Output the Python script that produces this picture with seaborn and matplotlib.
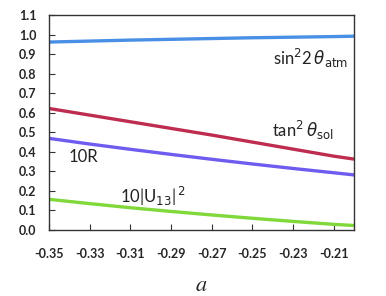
import pandas as pd
import numpy as np
import matplotlib
matplotlib.use("Agg")
import matplotlib.pyplot as plt
import seaborn as sns

# values
a_vals = [-0.35, -0.33, -0.31, -0.29, -0.27, -0.25, -0.23, -0.21, -0.20]
sin2_atm = [0.962, 0.967, 0.972, 0.976, 0.980, 0.984, 0.987, 0.990, 0.992]
tan2_sol = [0.622, 0.588, 0.554, 0.520, 0.486, 0.450, 0.414, 0.378, 0.363]
ten_R = [0.469, 0.440, 0.413, 0.387, 0.362, 0.338, 0.315, 0.293, 0.282]
ten_U13 = [0.157, 0.135, 0.114, 0.095, 0.077, 0.060, 0.044, 0.029, 0.023]

series_names = ["sin2_atm", "tan2_sol", "10R", "10U13"]
series_vals = [sin2_atm, tan2_sol, ten_R, ten_U13]
colors = ["#4a8fe6", "#be2d50", "#6e5cee", "#80d83a"]

x_ticks = [-0.35, -0.33, -0.31, -0.29, -0.27, -0.25, -0.23, -0.21]
y_ticks = [0.0, 0.1, 0.2, 0.3, 0.4, 0.5, 0.6, 0.7, 0.8, 0.9, 1.0, 1.1]

df = pd.concat([pd.DataFrame({"a": a_vals, "value": v, "series": n})
                for n, v in zip(series_names, series_vals)])

sns.set_style("ticks")
plt.rcParams["font.family"] = ["Lato", "DejaVu Sans"]
plt.rcParams["mathtext.fontset"] = "dejavusans"

fig, ax = plt.subplots(figsize=(3.86, 2.96), dpi=100)
fig.subplots_adjust(left=0.127, right=0.917, top=0.949, bottom=0.223)

sns.lineplot(data=df, x="a", y="value", hue="series", palette=colors,
             linewidth=2.4, legend=False, ax=ax)

ax.set_xlim(-0.35, -0.20)
ax.set_ylim(0.0, 1.1)
ax.set_xticks(x_ticks)
ax.set_xticklabels([f"{t:.2f}" for t in x_ticks], fontweight="bold", fontsize=9)
ax.set_yticks(y_ticks)
ax.set_yticklabels([f"{t:.1f}" for t in y_ticks], fontweight="bold", fontsize=9)
ax.tick_params(axis="x", direction="in", length=4, pad=13, color="#333333")
ax.tick_params(axis="y", direction="in", length=4, pad=9, color="#333333")
for s in ax.spines.values():
    s.set_visible(True)
    s.set_color("#333333")
    s.set_linewidth(1.0)

ax.set_xlabel("$a$", fontsize=16, labelpad=11)
ax.xaxis.label.set_math_fontfamily("stix")
ax.set_ylabel("")

txt = dict(fontsize=12, color="#222222", va="center")
ax.text(-0.2398, 0.88, r"sin$^2$2$\,\theta_{\mathrm{atm}}$", **txt)
ax.text(-0.2405, 0.51, r"tan$^2\,\theta_{\mathrm{sol}}$", **txt)
ax.text(-0.3405, 0.373, "10R", **txt)
ax.text(-0.3150, 0.17, r"10|U$_{13}$|$^{\,2}$", **txt)

fig.savefig("out.png", dpi=100)
